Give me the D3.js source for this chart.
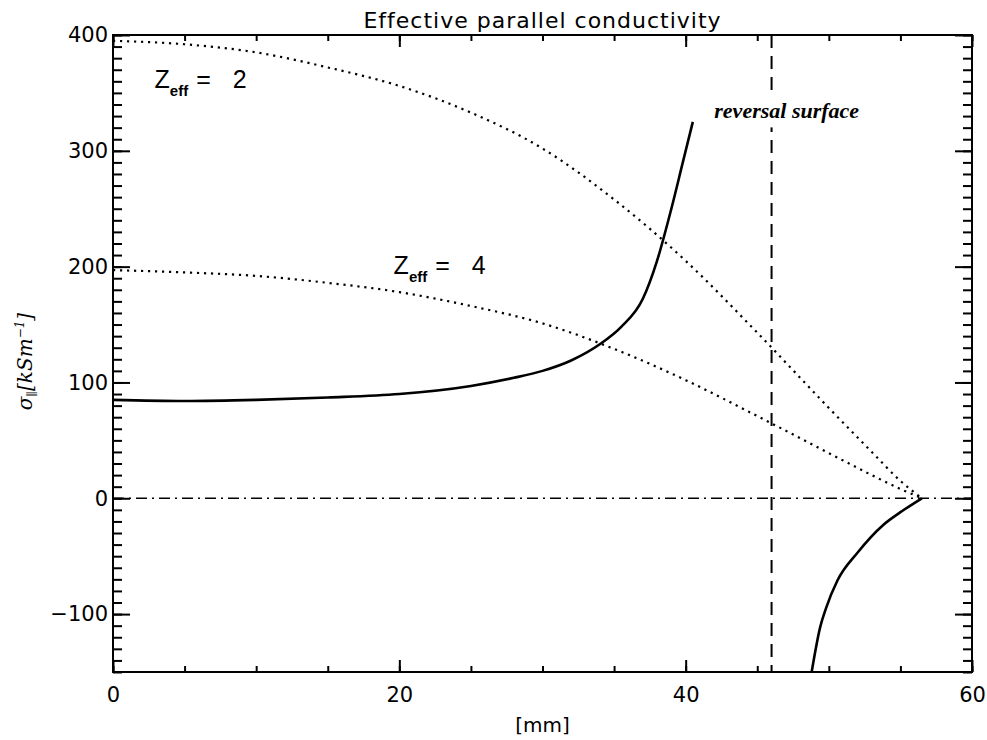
<!DOCTYPE html>
<html>
<head>
<meta charset="utf-8">
<script src="https://cdn.jsdelivr.net/npm/d3@7"></script>
<style>
  body { margin: 0; background: #fff; }
  svg { display: block; }
  .tick text { font-family: "DejaVu Sans", sans-serif; font-size: 21px; fill: #000; }
  .tick line { stroke: #000; stroke-width: 2; }
</style>
</head>
<body>
<div id="chart"></div>
<script>
// radius [mm] and conductivity [kS/m]
var zeff2X = [0, 5, 10, 15, 20, 25, 30, 35, 40, 45, 50, 53, 55, 56.5];
var zeff2Y = [395, 392, 385, 372, 356, 333, 302, 258, 205, 143, 78, 40, 15, 0];
var zeff4X = [0, 5, 10, 15, 20, 25, 30, 35, 40, 45, 50, 53, 55, 56.5];
var zeff4Y = [197, 195, 192, 186, 178, 166, 151, 129, 102, 71, 39, 20, 8, 0];
var solidX = [0, 5, 10, 15, 20, 25, 28, 30, 32, 34, 35.5, 37, 38, 39, 39.8, 40.5];
var solidY = [85, 84, 85, 87, 90, 97, 104, 110, 119, 133, 148, 172, 205, 250, 290, 325];
var negX = [48.8, 49.4, 49.8, 50.6, 52, 53.8, 55, 56.5];
var negY = [-150, -111, -95, -71, -47, -23, -12, 0];
var reversalX = 46;
var xTicks = [0, 20, 40, 60];
var yTicks = [-100, 0, 100, 200, 300, 400];

var W = 987, H = 740;
var margin = {top: 35, right: 15, bottom: 68, left: 113};
var width = W - margin.left - margin.right;
var height = H - margin.top - margin.bottom;

var svg = d3.select("#chart").append("svg")
  .attr("width", W)
  .attr("height", H);

var g = svg.append("g")
  .attr("transform", "translate(" + margin.left + "," + margin.top + ")");

var x = d3.scaleLinear().domain([0, 60]).range([0, width]);
var y = d3.scaleLinear().domain([-150, 400]).range([height, 0]);

svg.append("defs").append("clipPath").attr("id", "plotclip")
  .append("rect").attr("width", width).attr("height", height);

// minor ticks, all four sides, pointing in
g.append("g").attr("transform", "translate(0," + height + ")")
  .call(d3.axisBottom(x).tickValues(d3.range(0, 61, 5)).tickSize(-6).tickFormat(""));
g.append("g")
  .call(d3.axisTop(x).tickValues(d3.range(0, 61, 5)).tickSize(-6).tickFormat(""));
g.append("g")
  .call(d3.axisLeft(y).tickValues(d3.range(-150, 401, 10)).tickSize(-9).tickFormat(""));
g.append("g").attr("transform", "translate(" + width + ",0)")
  .call(d3.axisLeft(y).tickValues(d3.range(-150, 401, 10)).tickSize(9).tickFormat(""));

// major ticks with labels
g.append("g").attr("transform", "translate(0," + height + ")")
  .call(d3.axisBottom(x).tickValues(xTicks).tickSize(-12).tickPadding(15));
g.append("g")
  .call(d3.axisTop(x).tickValues(xTicks).tickSize(-12).tickFormat(""));
g.append("g")
  .call(d3.axisLeft(y).tickValues(yTicks).tickSize(-17).tickPadding(5)
    .tickFormat(function(d) { return d < 0 ? "\u2212" + (-d) : d; }));
g.append("g").attr("transform", "translate(" + width + ",0)")
  .call(d3.axisLeft(y).tickValues(yTicks).tickSize(17).tickFormat(""));

g.selectAll(".domain").remove();

g.append("rect")
  .attr("width", width).attr("height", height)
  .attr("fill", "none").attr("stroke", "#000").attr("stroke-width", 2);

var plot = g.append("g").attr("clip-path", "url(#plotclip)");

function xy(xs, ys) { return xs.map(function(v, i) { return [v, ys[i]]; }); }

var line = d3.line()
  .curve(d3.curveMonotoneX)
  .x(function(d) { return x(d[0]); })
  .y(function(d) { return y(d[1]); });

// zero line, dash-dot
plot.append("line")
  .attr("x1", x(0)).attr("x2", x(60))
  .attr("y1", y(0)).attr("y2", y(0))
  .attr("stroke", "#000").attr("stroke-width", 1.6)
  .attr("stroke-dasharray", "11,5,2,5");

// reversal surface
plot.append("line")
  .attr("x1", x(reversalX)).attr("x2", x(reversalX))
  .attr("y1", y(400)).attr("y2", y(-150))
  .attr("stroke", "#000").attr("stroke-width", 2)
  .attr("stroke-dasharray", "13,8");

[xy(zeff2X, zeff2Y), xy(zeff4X, zeff4Y)].forEach(function(d) {
  plot.append("path")
    .datum(d)
    .attr("fill", "none")
    .attr("stroke", "#000")
    .attr("stroke-width", 2.2)
    .attr("stroke-dasharray", "2.2,4.8")
    .attr("d", line);
});

[xy(solidX, solidY), xy(negX, negY)].forEach(function(d) {
  plot.append("path")
    .datum(d)
    .attr("fill", "none")
    .attr("stroke", "#000")
    .attr("stroke-width", 2.6)
    .attr("d", line);
});

// annotations
function zLabel(xv, yv, n) {
  var t = g.append("text")
    .attr("x", x(xv)).attr("y", y(yv))
    .attr("font-family", "Liberation Sans, sans-serif")
    .attr("font-size", 25);
  t.append("tspan").text("Z");
  t.append("tspan").attr("font-size", 15).attr("font-weight", "bold")
    .attr("dy", 8).text("eff");
  t.append("tspan").attr("dy", -8).attr("dx", 8).text("=");
  t.append("tspan").attr("dx", 22).text(n);
}
zLabel(2.9, 354, "2");
zLabel(19.6, 194, "4");

var rev = g.append("g");
var revText = rev.append("text")
  .attr("x", x(42)).attr("y", y(328))
  .attr("font-family", "Liberation Serif, serif")
  .attr("font-style", "italic")
  .attr("font-weight", "bold")
  .attr("font-size", 22)
  .text("reversal surface");
var bb = revText.node().getBBox();
rev.insert("rect", "text")
  .attr("x", bb.x - 3).attr("y", bb.y - 4)
  .attr("width", bb.width + 6).attr("height", bb.height + 8)
  .attr("fill", "#fff");

// title and axis titles
svg.append("text")
  .attr("x", margin.left + width / 2).attr("y", 28)
  .attr("text-anchor", "middle")
  .attr("font-family", "DejaVu Sans, sans-serif")
  .attr("font-size", 22)
  .attr("letter-spacing", 1)
  .text("Effective parallel conductivity");

svg.append("text")
  .attr("x", margin.left + width / 2).attr("y", 732)
  .attr("text-anchor", "middle")
  .attr("font-family", "DejaVu Sans, sans-serif")
  .attr("font-size", 20)
  .text("[mm]");

var yl = svg.append("text")
  .attr("transform", "translate(32," + (margin.top + height / 2 + 8) + ") rotate(-90)")
  .attr("text-anchor", "middle")
  .attr("font-family", "DejaVu Serif, serif")
  .attr("font-style", "italic")
  .attr("font-size", 20);
yl.append("tspan").text("\u03c3");
yl.append("tspan").attr("font-size", 12).attr("dy", 4).text("\u2225");
yl.append("tspan").attr("dy", -4).text("[kSm");
yl.append("tspan").attr("font-size", 12).attr("dy", -8).text("\u22121");
yl.append("tspan").attr("dy", 8).text("]");
</script>
</body>
</html>
